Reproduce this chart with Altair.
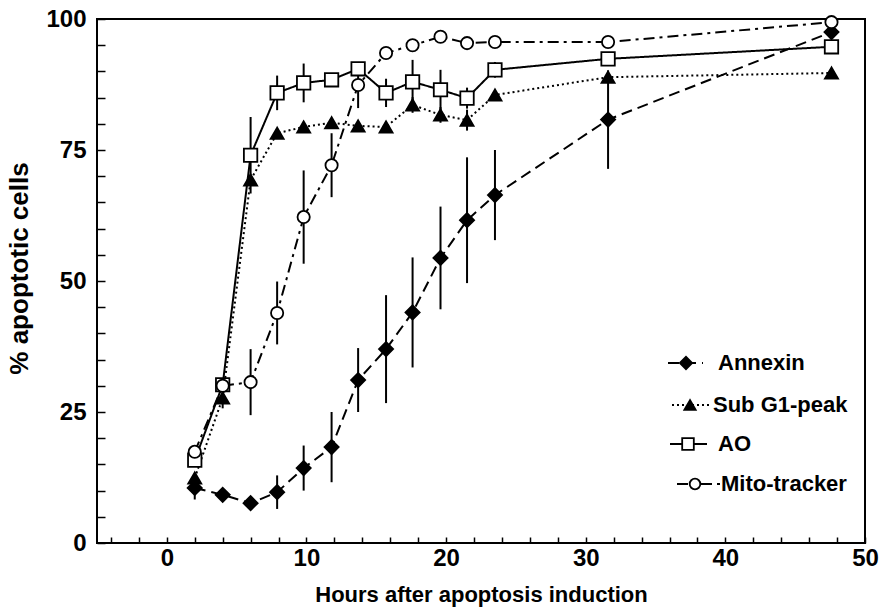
import altair as alt
import pandas as pd

# ---------------- data ----------------
hours = [2, 4, 6, 7.9, 9.8, 11.8, 13.7, 15.7, 17.6, 19.6, 21.5, 23.5, 31.6, 47.6]

annexin = [10.5, 9.2, 7.6, 9.7, 14.3, 18.3, 31.1, 37.0, 44.0, 54.4, 61.6, 66.4, 80.8, 97.5]
annexin_err = [2.2, 0, 0, 3.2, 4.3, 6.7, 6.1, 10.3, 10.5, 9.8, 12.0, 8.6, 9.4, 0]

subg1 = [12.4, 27.7, 69.3, 78.2, 79.4, 80.2, 79.6, 79.4, 83.6, 81.7, 80.7, 85.5, 88.9, 89.7]
subg1_err = [0, 2.0, 0, 0, 0, 0, 0, 0, 1.5, 1.5, 2.0, 0, 0, 0]

ao = [15.8, 30.2, 74.0, 85.9, 87.8, 88.4, 90.5, 85.9, 88.0, 86.5, 84.9, 90.3, 92.4, 94.7]
ao_err = [0, 0, 7.3, 3.3, 3.7, 0, 0, 2.7, 4.2, 3.8, 2.0, 1.5, 0, 0]

mito = [17.4, 30.0, 30.7, 43.9, 62.2, 72.1, 87.4, 93.5, 95.0, 96.6, 95.4, 95.6, 95.6, 99.4]
mito_err = [0, 0, 6.3, 6.0, 8.9, 6.1, 4.4, 0, 0, 0, 0, 0, 0, 0]

series_names = ["Annexin", "Sub G1-peak", "AO", "Mito-tracker"]

x_tick_values = list(range(-4, 51, 2))
y_tick_values = list(range(0, 101, 5))

x_title = "Hours after apoptosis induction"
y_title = "% apoptotic cells"

# ---------------- styles ----------------
FONT = "Liberation Sans"
styles = {
    "Annexin": dict(dash=[11, 6], shape="diamond", fill="black", size=200),
    "Sub G1-peak": dict(dash=[2, 3], shape="triangle-up", fill="black", size=170),
    "AO": dict(dash=[1, 0], shape="square", fill="white", size=180),
    "Mito-tracker": dict(dash=[11, 5, 3, 5], shape="circle", fill="white", size=150),
}
values = {
    "Annexin": (annexin, annexin_err),
    "Sub G1-peak": (subg1, subg1_err),
    "AO": (ao, ao_err),
    "Mito-tracker": (mito, mito_err),
}

# legend layout (pixels in the page)
PAD_L, PAD_T = 97, 19
legend_layout = {
    "Annexin": dict(y=363, x1=668, x2=703, xm=686, xt=718),
    "Sub G1-peak": dict(y=405, x1=672, x2=712, xm=690, xt=713),
    "AO": dict(y=444, x1=670, x2=707, xm=688, xt=718),
    "Mito-tracker": dict(y=484, x1=677, x2=720, xm=695, xt=721),
}

W, H = 768, 524

xscale = alt.Scale(domain=[-5, 50], nice=False, zero=False)
yscale = alt.Scale(domain=[0, 100], nice=False, zero=False)

x_axis = alt.Axis(
    values=x_tick_values,
    labelExpr="datum.value % 10 === 0 ? datum.label : ''",
    domain=False, grid=False, tickSize=6, offset=-6, tickColor="black", tickWidth=1.5,
    labelPadding=3, labelFontSize=24, labelFont=FONT, labelFontWeight="bold",
    labelColor="black", labelFlush=False, labelOverlap=False,
    title=x_title, titleFont=FONT, titleFontSize=22, titleFontWeight="bold",
    titleColor="black", titleX=384, titleY=57, titleBaseline="middle", titleAlign="center",
)
y_axis = alt.Axis(
    values=y_tick_values,
    labelExpr="datum.value % 25 === 0 ? datum.label : ''",
    domain=False, grid=False, tickSize=8, offset=-8, tickColor="black", tickWidth=1.5,
    labelPadding=11, labelFontSize=24, labelFont=FONT, labelFontWeight="bold",
    labelColor="black", labelOverlap=False,
    title=y_title, titleFont=FONT, titleFontSize=26, titleFontWeight="bold",
    titleColor="black", titleX=-86, titleY=249, titleBaseline="middle", titleAlign="center",
    titleAngle=270,
)


def X(field):
    return alt.X(field, type="quantitative", scale=xscale, axis=x_axis)


def Y(field):
    return alt.Y(field, type="quantitative", scale=yscale, axis=y_axis)


err_layers, line_layers, point_layers, legend_layers = [], [], [], []
for name in series_names:
    vals, errs = values[name]
    st = styles[name]
    df = pd.DataFrame({"h": hours, "v": vals, "e": errs})
    df["lo"] = df["v"] - df["e"]
    df["hi"] = df["v"] + df["e"]
    dfe = df[df["e"] > 0]
    line_layers.append(
        alt.Chart(df).mark_line(color="black", strokeWidth=2, strokeDash=st["dash"]).encode(x=X("h"), y=Y("v"))
    )
    err_layers.append(
        alt.Chart(dfe).mark_rule(color="black", strokeWidth=2).encode(x=X("h"), y=Y("lo"), y2="hi:Q")
    )
    point_layers.append(
        alt.Chart(df).mark_point(
            shape=st["shape"], filled=True, fill=st["fill"], stroke="black",
            strokeWidth=1.8, size=st["size"], opacity=1,
        ).encode(x=X("h"), y=Y("v"))
    )
    lg = legend_layout[name]
    one = alt.Data(values=[{"label": name}])
    legend_layers.append(
        alt.Chart(one).mark_rule(color="black", strokeWidth=2, strokeDash=st["dash"]).encode(
            x=alt.value(lg["x1"] - PAD_L), x2=alt.value(lg["x2"] - PAD_L), y=alt.value(lg["y"] - PAD_T)
        )
    )
    legend_layers.append(
        alt.Chart(one).mark_point(
            shape=st["shape"], filled=True, fill=st["fill"], stroke="black",
            strokeWidth=1.8, size=st["size"] * 0.75, opacity=1,
        ).encode(x=alt.value(lg["xm"] - PAD_L), y=alt.value(lg["y"] - PAD_T))
    )
    legend_layers.append(
        alt.Chart(one).mark_text(
            align="left", baseline="middle", font=FONT, fontSize=22, fontWeight="bold", color="black"
        ).encode(x=alt.value(lg["xt"] - PAD_L), y=alt.value(lg["y"] - PAD_T), text="label:N")
    )

chart = alt.layer(*(line_layers + err_layers + point_layers + legend_layers)).properties(
    width=W, height=H,
    padding={"left": PAD_L, "top": PAD_T, "right": 883 - PAD_L - W, "bottom": 612 - PAD_T - H},
    autosize=alt.AutoSizeParams(type="none"),
    background="white",
).configure_view(stroke="black", strokeWidth=2)

chart.save("out.html", embed_options={"renderer": "svg", "actions": False})
